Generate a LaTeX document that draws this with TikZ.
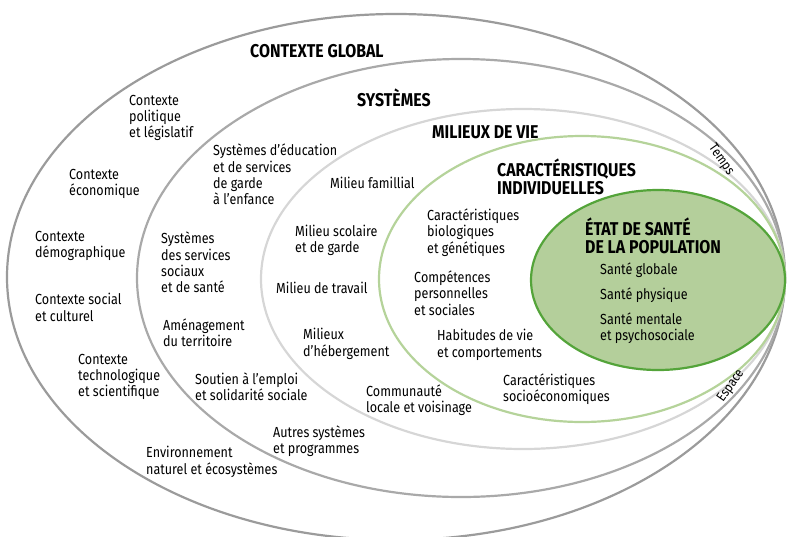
\documentclass[tikz,border=0pt]{standalone}
\usepackage{fontspec}
\setmainfont{Fira Sans}[FakeStretch=0.86]
\definecolor{grisfonce}{HTML}{9B9B9B}
\definecolor{grismoyen}{HTML}{A9A9A9}
\definecolor{grisclair}{HTML}{D6D6D6}
\definecolor{vertpale}{HTML}{B5D39A}
\definecolor{vertfond}{HTML}{B4CF9B}
\definecolor{vertbord}{HTML}{54A43A}
\begin{document}
\begin{tikzpicture}[x=1pt,y=-1pt,
	txt/.style={anchor=west,align=left,inner sep=0pt,font=\fontsize{14.6}{16.3}\selectfont},
	titre/.style={anchor=west,align=left,inner sep=0pt,font=\fontsize{18.5}{18.5}\selectfont\bfseries}]
	\useasboundingbox (0,0) rectangle (794,536);
	\begin{scope}[line width=2.2pt]
		\draw[grisfonce]  (396,277) ellipse [x radius=389, y radius=263];
		\draw[grismoyen]  (461,278) ellipse [x radius=324, y radius=219];
		\draw[grisclair]  (523,279) ellipse [x radius=262, y radius=170];
		\draw[vertpale]   (582,279) ellipse [x radius=203, y radius=143];
		\draw[vertbord,fill=vertfond] (658,280) ellipse [x radius=127, y radius=90];
	\end{scope}
	\path (250,51)  node[titre] (glob)  {CONTEXTE GLOBAL};
	\path (357,98)  node[titre] (sys)   {SYSTÈMES};
	\path (432,132) node[titre] (mil)   {MILIEUX DE VIE};
	\path (497,177) node[titre] (indiv) {CARACTÉRISTIQUES\\INDIVIDUELLES};
	\path (585,236) node[titre] (etat)  {ÉTAT DE SANTÉ\\DE LA POPULATION};

	\path (129,118)   node[txt] (polit)  {Contexte\\politique\\et législatif};
	\path (69,184)    node[txt] (econ)   {Contexte\\économique};
	\path (35,246)    node[txt] (demo)   {Contexte\\démographique};
	\path (35,307.5)  node[txt] (soc)    {Contexte social\\et culturel};
	\path (78,377)    node[txt] (techno) {Contexte\\technologique\\et scientifique};
	\path (146,462)   node[txt] (envir)  {Environnement\\naturel et écosystèmes};

	\path (213,174.5) node[txt] (educ)   {Systèmes d’éducation\\et de services\\de garde\\à l’enfance};
	\path (161,262.5) node[txt] (servs)  {Systèmes\\des services\\sociaux\\et de santé};
	\path (163,332.5) node[txt] (amen)   {Aménagement\\du territoire};
	\path (195,386.5) node[txt] (emploi) {Soutien à l’emploi\\et solidarité sociale};
	\path (273,441)   node[txt] (autres) {Autres systèmes\\et programmes};

	\path (330,183)   node[txt] (famil)  {Milieu famillial};
	\path (295,240.5) node[txt] (scol)   {Milieu scolaire\\et de garde};
	\path (276,288)   node[txt] (trav)   {Milieu de travail};
	\path (303,344)   node[txt] (heb)    {Milieux\\d’hébergement};
	\path (366,400)   node[txt] (comm)   {Communauté\\locale et voisinage};

	\path (427,232.5) node[txt] (bio)    {Caractéristiques\\biologiques\\et génétiques};
	\path (414,293)   node[txt] (comp)   {Compétences\\personnelles\\et sociales};
	\path (437,345)   node[txt] (habit)  {Habitudes de vie\\et comportements};
	\path (503,389)   node[txt] (socio)  {Caractéristiques\\socioéconomiques};

	\path (600,270)   node[txt] (sglob)  {Santé globale};
	\path (600,295)   node[txt] (sphys)  {Santé physique};
	\path (600,328.5) node[txt] (sment)  {Santé mentale\\et psychosociale};

	\path (721,160) node[inner sep=0pt,rotate=-55,font=\fontsize{13.5}{14}\selectfont] (temps)  {Temps};
	\path (731,386) node[inner sep=0pt,rotate=55,font=\fontsize{13.5}{14}\selectfont]  (espace) {Espace};
\end{tikzpicture}
\end{document}
